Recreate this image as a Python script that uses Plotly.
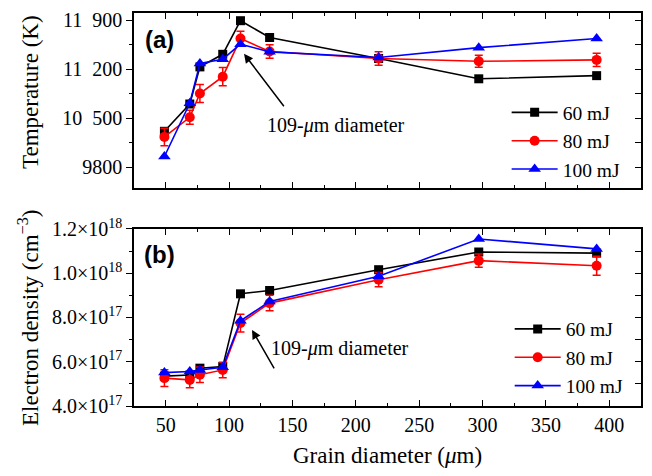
import plotly.graph_objects as go

grain = [49, 69, 77, 95, 109, 132, 218, 297, 390]

temp_60 = [10310, 10700, 11230, 11410, 11890, 11650, 11350, 11060, 11105]
temp_80 = [10230, 10510, 10850, 11090, 11635, 11450, 11350, 11310, 11330]
temp_80_err = [125, 100, 130, 130, 105, 95, 95, 85, 95]
temp_100 = [9950, 10710, 11280, 11340, 11555, 11445, 11365, 11505, 11635]

dens_60 = [5.35e17, 5.40e17, 5.71e17, 5.78e17, 9.07e17, 9.22e17, 1.016e18, 1.096e18, 1.091e18]
dens_80 = [5.26e17, 5.18e17, 5.41e17, 5.63e17, 7.75e17, 8.65e17, 9.71e17, 1.057e18, 1.034e18]
dens_80_err = [3.8e16, 3.5e16, 3.5e16, 3.5e16, 4.0e16, 3.5e16, 3.2e16, 3.0e16, 4.3e16]
dens_100 = [5.51e17, 5.56e17, 5.63e17, 5.75e17, 7.85e17, 8.72e17, 9.86e17, 1.155e18, 1.110e18]

series_names = ["60 mJ", "80 mJ", "100 mJ"]
x_ticks = [50, 100, 150, 200, 250, 300, 350, 400]
temp_ticks = [9800, 10500, 11200, 11900]
temp_ticktext = ["9800", "10\u2002500", "11\u2002200", "11\u2002900"]
dens_ticks = [4e17, 6e17, 8e17, 1.0e18, 1.2e18]
dens_ticktext = ["4.0×10<sup>17</sup>", "6.0×10<sup>17</sup>", "8.0×10<sup>17</sup>",
                 "1.0×10<sup>18</sup>", "1.2×10<sup>18</sup>"]

SERIF = "Liberation Serif"
SANS = "Liberation Sans"
colors = ["#000000", "#FF0000", "#0000FF"]
symbols = ["square", "circle", "triangle-up"]
msize = [9, 10, 11]

fig = go.Figure()

def add_panel(ys, err, xa, ya, legend):
    for i, (yv, name) in enumerate(zip(ys, series_names)):
        kw = {}
        if i == 1:
            kw["error_y"] = dict(type="data", array=err, color=colors[1], thickness=1.5, width=4)
        fig.add_trace(go.Scatter(
            x=grain, y=yv, name=name, mode="lines+markers",
            line=dict(color=colors[i], width=1.6),
            marker=dict(symbol=symbols[i], size=msize[i], color=colors[i]),
            xaxis=xa, yaxis=ya, legend=legend, **kw))

add_panel([temp_60, temp_80, temp_100], temp_80_err, "x", "y", "legend")
add_panel([dens_60, dens_80, dens_100], dens_80_err, "x2", "y2", "legend2")

# dummy traces for the right-hand framing axes
fig.add_trace(go.Scatter(x=[None], y=[None], xaxis="x", yaxis="y3", showlegend=False, hoverinfo="skip"))
fig.add_trace(go.Scatter(x=[None], y=[None], xaxis="x2", yaxis="y4", showlegend=False, hoverinfo="skip"))

dom_a = [0.5547, 1.0]
dom_b = [0.0, 0.4504]

xcommon = dict(range=[25, 425], tickvals=x_ticks, ticks="inside", ticklen=6, tickwidth=1.2,
               showline=True, linecolor="black", linewidth=1.5, mirror="ticks",
               showgrid=False, zeroline=False, tickcolor="black", automargin=False,
               minor=dict(ticks="inside", dtick=25, tick0=25, ticklen=3, tickcolor="black", showgrid=False),
               tickfont=dict(family=SERIF, size=20, color="black"))

ycommon = dict(ticks="outside", ticklen=6, tickwidth=1.2, tickcolor="black",
               showline=True, linecolor="black", linewidth=1.5, mirror=False,
               showgrid=False, zeroline=False, automargin=False,
               tickfont=dict(family=SERIF, size=20, color="black"))

yright = dict(showticklabels=False, ticks="inside", ticklen=6, tickcolor="black", tickwidth=1.2,
              showline=True, linecolor="black", linewidth=1.5, showgrid=False, zeroline=False,
              automargin=False)

# page has an 8px body margin: keep figure inside the 652x476 viewport
fig.update_layout(
    width=636, height=460,
    margin=dict(l=126, r=3, t=5, b=62, autoexpand=False),
    paper_bgcolor="white", plot_bgcolor="white",
    font=dict(family=SERIF, size=20, color="black"),
    showlegend=True,
    xaxis=dict(domain=[0, 1], anchor="y", showticklabels=False, **xcommon),
    xaxis2=dict(domain=[0, 1], anchor="y2", showticklabels=True, **xcommon),
    yaxis=dict(domain=dom_a, anchor="x", range=[9500, 12000], tickvals=temp_ticks, ticktext=temp_ticktext,
               minor=dict(ticks="outside", dtick=350, tick0=9800, ticklen=3, tickcolor="black"), **ycommon),
    yaxis2=dict(domain=dom_b, anchor="x2", range=[4e17, 1.2e18], tickvals=dens_ticks, ticktext=dens_ticktext,
                minor=dict(ticks="outside", dtick=1e17, tick0=4e17, ticklen=3, tickcolor="black"), **ycommon),
    yaxis3=dict(overlaying="y", side="right", anchor="x", range=[9500, 12000], tickvals=temp_ticks,
                minor=dict(ticks="inside", dtick=350, tick0=9800, ticklen=6, tickcolor="black"), **yright),
    yaxis4=dict(overlaying="y2", side="right", anchor="x2", range=[4e17, 1.2e18], tickvals=dens_ticks,
                minor=dict(ticks="inside", dtick=1e17, tick0=4e17, ticklen=6, tickcolor="black"), **yright),
    legend=dict(x=0.735, y=0.796, xanchor="left", yanchor="top", bgcolor="rgba(0,0,0,0)",
                font=dict(family=SERIF, size=19.5, color="black"), itemwidth=46, tracegroupgap=0),
    legend2=dict(x=0.741, y=0.245, xanchor="left", yanchor="top", bgcolor="rgba(0,0,0,0)",
                 font=dict(family=SERIF, size=19.5, color="black"), itemwidth=46, tracegroupgap=0),
)

annotations = [
    dict(text="<b>(a)</b>", xref="x", yref="y", x=45.5, y=11616,
         showarrow=False, font=dict(family=SANS, size=24, color="black")),
    dict(text="<b>(b)</b>", xref="x2", yref="y2", x=45.5, y=1.084e18,
         showarrow=False, font=dict(family=SANS, size=24, color="black")),
    dict(text="Temperature (K)", xref="paper", yref="paper", x=(31 - 134) / 507, y=(406 - 92) / 393,
         xanchor="center", yanchor="middle",
         textangle=-90, showarrow=False, font=dict(family=SERIF, size=23, color="black")),
    dict(text="Electron density (cm<sup>−3</sup>)", xref="paper", yref="paper", x=(28 - 134) / 507,
         y=(406 - 318) / 393, xanchor="center", yanchor="middle",
         textangle=-90, showarrow=False, font=dict(family=SERIF, size=23, color="black")),
    dict(text="Grain diameter (<i>μ</i>m)", xref="paper", yref="paper", x=0.5, y=(406 - 456) / 393,
         xanchor="center", yanchor="middle",
         showarrow=False, font=dict(family=SERIF, size=23, color="black")),
    # panel a arrow + label
    dict(x=111.8, y=11417, xref="x", yref="y", ax=41, ay=54, text="", showarrow=True,
         arrowhead=2, arrowsize=1.2, arrowwidth=1.5, arrowcolor="black"),
    dict(x=184.4, y=10395, xref="x", yref="y", text="109-<i>μ</i>m diameter", showarrow=False,
         font=dict(family=SERIF, size=20, color="black")),
    # panel b arrow + label
    dict(x=118.1, y=7.44e17, xref="x2", yref="y2", ax=23, ay=40, text="", showarrow=True,
         arrowhead=2, arrowsize=1.2, arrowwidth=1.5, arrowcolor="black"),
    dict(x=187.5, y=6.58e17, xref="x2", yref="y2", text="109-<i>μ</i>m diameter", showarrow=False,
         font=dict(family=SERIF, size=20, color="black")),
]
fig.update_layout(annotations=annotations)

fig.write_html("out.html")
